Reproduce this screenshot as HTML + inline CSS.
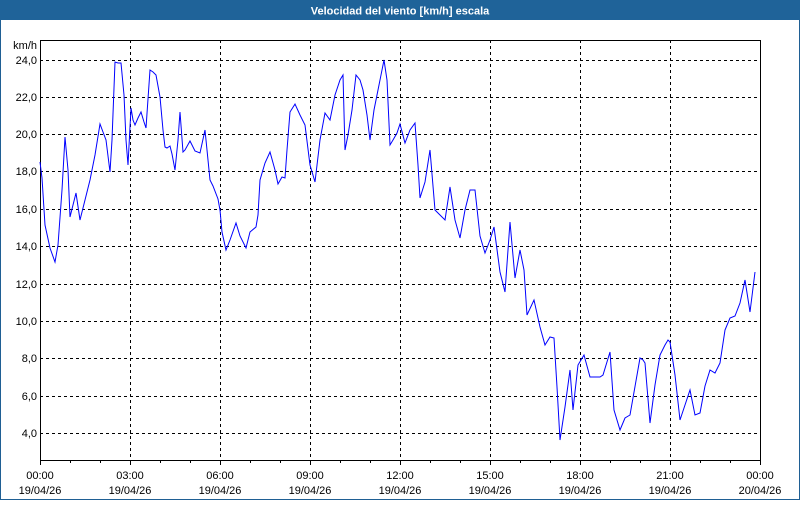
<!DOCTYPE html>
<html><head><meta charset="utf-8"><style>
body{margin:0;width:800px;height:500px;overflow:hidden;background:#fff;font-family:"Liberation Sans",sans-serif}
</style></head><body>
<svg width="800" height="500" xmlns="http://www.w3.org/2000/svg" font-family="Liberation Sans, sans-serif" font-size="11">
<rect x="0" y="0" width="800" height="500" fill="#fff"/>
<rect x="0.5" y="0.5" width="799" height="499" fill="none" stroke="#1f5f94"/>
<rect x="0" y="0" width="800" height="20" fill="#1f6399"/>
<text x="400" y="14.5" text-anchor="middle" fill="#fff" font-weight="bold" font-size="11">Velocidad del viento [km/h] escala</text>
<g stroke="#000" stroke-dasharray="3,3" stroke-width="1">
<line x1="40" x2="760" y1="60.5" y2="60.5"/><line x1="40" x2="760" y1="97.5" y2="97.5"/><line x1="40" x2="760" y1="134.5" y2="134.5"/><line x1="40" x2="760" y1="171.5" y2="171.5"/><line x1="40" x2="760" y1="209.5" y2="209.5"/><line x1="40" x2="760" y1="246.5" y2="246.5"/><line x1="40" x2="760" y1="284.5" y2="284.5"/><line x1="40" x2="760" y1="321.5" y2="321.5"/><line x1="40" x2="760" y1="358.5" y2="358.5"/><line x1="40" x2="760" y1="396.5" y2="396.5"/><line x1="40" x2="760" y1="433.5" y2="433.5"/>
<line x1="130.5" x2="130.5" y1="40" y2="460"/><line x1="220.5" x2="220.5" y1="40" y2="460"/><line x1="310.5" x2="310.5" y1="40" y2="460"/><line x1="400.5" x2="400.5" y1="40" y2="460"/><line x1="490.5" x2="490.5" y1="40" y2="460"/><line x1="580.5" x2="580.5" y1="40" y2="460"/><line x1="670.5" x2="670.5" y1="40" y2="460"/>
</g>
<g stroke="#000"><rect x="40.5" y="40.5" width="720" height="420" fill="none"/>
<path d="M40.5 460v5M70.5 460v3M100.5 460v3M130.5 460v5M160.5 460v3M190.5 460v3M220.5 460v5M250.5 460v3M280.5 460v3M310.5 460v5M340.5 460v3M370.5 460v3M400.5 460v5M430.5 460v3M460.5 460v3M490.5 460v5M520.5 460v3M550.5 460v3M580.5 460v5M610.5 460v3M640.5 460v3M670.5 460v5M700.5 460v3M730.5 460v3M760.5 460v5"/></g>
<polyline fill="none" stroke="#0000ff" stroke-width="1" points="40,162 42,178 45,225 50,248 55,262 58,245 62,190 65,137 68,170 70,217 73,205 76,193 80,220 85,200 90,180 95,155 100,124 103,132 106,140 110,172 112,140 115,62 118,63 121,63 124,95 126,140 128,165 131,108 133,120 135,125 138,118 141,112 144,122 146,128 150,70 153,72 156,75 160,97 163,130 165,147 167,148 170,146 172,154 175,170 178,140 180,112 183,152 185,150 190,141 195,151 200,153 205,130 210,180 213,186 218,199 220,210 222,232 226,250 230,240 236,223 240,236 246,248 250,232 256,227 258,215 260,180 265,163 270,152 275,170 278,184 282,177 285,178 287,150 290,112 295,104 300,115 305,125 310,165 315,182 320,140 325,113 330,120 335,95 340,80 343,75 345,150 348,135 352,110 356,75 360,80 363,90 367,115 370,140 374,110 378,90 384,60 387,80 390,145 393,140 397,133 400,124 405,143 410,130 415,123 418,165 420,198 425,182 430,150 435,210 440,215 445,220 450,187 455,220 460,238 465,210 470,190 475,190 480,236 485,253 490,240 494,227 500,272 505,292 510,222 515,278 520,250 524,270 527,315 534,300 540,327 545,345 550,337 554,338 557,387 560,440 565,407 570,370 573,410 578,365 584,355 590,377 595,377 600,377 603,375 610,352 614,410 620,430 625,418 630,415 640,358 643,360 645,363 650,423 655,385 660,355 665,345 668,340 670,342 675,375 680,420 685,405 690,390 695,415 700,413 705,386 710,370 715,373 720,363 725,330 730,318 735,316 740,303 745,280 750,312 755,272"/>
<g fill="#000" text-anchor="end">
<text x="37" y="49">km/h</text>
<text x="37" y="64">24,0</text><text x="37" y="101">22,0</text><text x="37" y="138">20,0</text><text x="37" y="175">18,0</text><text x="37" y="213">16,0</text><text x="37" y="250">14,0</text><text x="37" y="288">12,0</text><text x="37" y="325">10,0</text><text x="37" y="362">8,0</text><text x="37" y="400">6,0</text><text x="37" y="437">4,0</text>
</g>
<g fill="#000" text-anchor="middle">
<text x="40" y="479">00:00</text><text x="40" y="494">19/04/26</text>
<text x="130" y="479">03:00</text><text x="130" y="494">19/04/26</text>
<text x="220" y="479">06:00</text><text x="220" y="494">19/04/26</text>
<text x="310" y="479">09:00</text><text x="310" y="494">19/04/26</text>
<text x="400" y="479">12:00</text><text x="400" y="494">19/04/26</text>
<text x="490" y="479">15:00</text><text x="490" y="494">19/04/26</text>
<text x="580" y="479">18:00</text><text x="580" y="494">19/04/26</text>
<text x="670" y="479">21:00</text><text x="670" y="494">19/04/26</text>
<text x="760" y="479">00:00</text><text x="760" y="494">20/04/26</text>
</g>
</svg>
</body></html>
